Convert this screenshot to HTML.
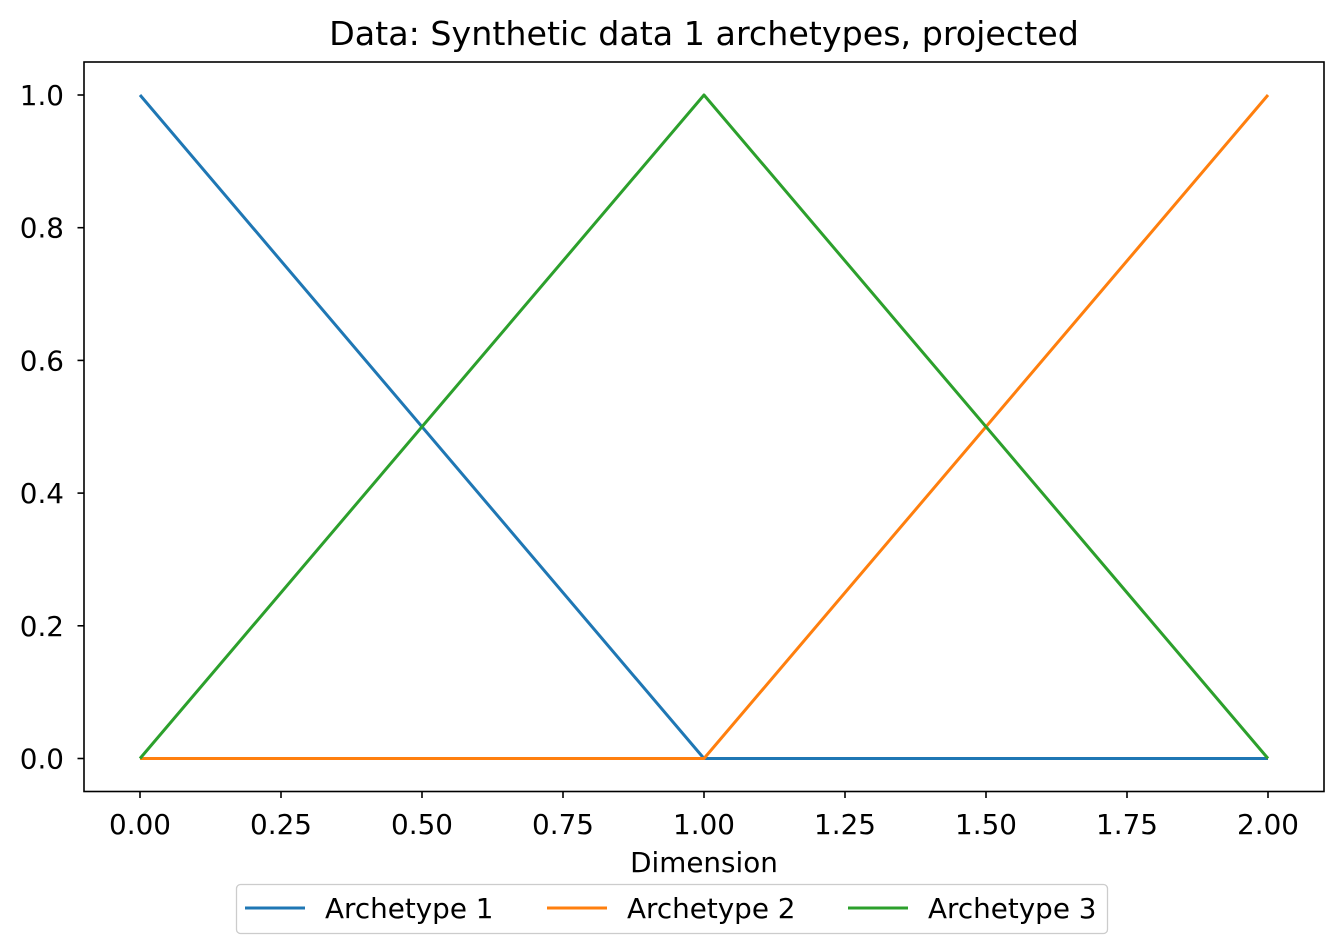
<!DOCTYPE html>
<html><head><meta charset="utf-8"><style>
html,body{margin:0;padding:0;background:#fff;}
svg{display:block;font-family:"DejaVu Sans","Liberation Sans",sans-serif;}
</style></head><body>
<svg id="chart" width="1343" height="948">
<rect width="1343" height="948" fill="#fff"/>
<text x="704" y="45" style="font-size:33.3px" text-anchor="middle">Data: Synthetic data 1 archetypes, projected</text>
<g id="ticks"></g>
<g id="lines"></g>
<rect x="84" y="62" width="1240" height="729.5" fill="none" stroke="#000" stroke-width="1.6"/>
<text x="704" y="872" style="font-size:27.8px" text-anchor="middle">Dimension</text>
<g>
<rect x="236.5" y="884.5" width="871" height="49" rx="4" fill="#fff" stroke="#ccc" stroke-width="1.3"/>
<g id="legend-items"></g>
</g>
</svg>
<script>
const dims = [0, 1, 2];
const seriesNames = ["Archetype 1", "Archetype 2", "Archetype 3"];
const arch1 = [1, 0, 0];
const arch2 = [0, 0, 1];
const arch3 = [0, 1, 0];
const xTicks = [0, 0.25, 0.5, 0.75, 1, 1.25, 1.5, 1.75, 2];
const yTicks = [0, 0.2, 0.4, 0.6, 0.8, 1.0];
const colors = ["#1f77b4", "#ff7f0e", "#2ca02c"];
const NS = "http://www.w3.org/2000/svg";
const xs = v => 140 + v * 564;
const ys = v => 758.5 - v * 663.5;
const tg = document.getElementById('ticks');
function mk(tag, attrs, parent){const e=document.createElementNS(NS,tag);for(const k in attrs)e.setAttribute(k,attrs[k]);parent.appendChild(e);return e;}
xTicks.forEach(t=>{
  const l=mk('line',{x1:xs(t),x2:xs(t),y1:791.5,y2:798,stroke:'#000','stroke-width':1.6},tg);
  
  
  const tx=mk('text',{x:xs(t),y:834,style:'font-size:27.8px','text-anchor':'middle'},tg);
  tx.textContent=t.toFixed(2);
  
  
});
yTicks.forEach(t=>{
  const l=mk('line',{x1:77.5,x2:84,y1:ys(t),y2:ys(t),stroke:'#000','stroke-width':1.6},tg);
  
  
  const tx=mk('text',{x:64,y:ys(t)+10,style:'font-size:27.8px','text-anchor':'end'},tg);
  tx.textContent=t.toFixed(1);
  
  
});
const lg=document.getElementById('lines');
[arch1,arch2,arch3].forEach((s,i)=>{
  const p=mk('polyline',{points:s.map((v,j)=>xs(dims[j])+','+ys(v)).join(' '),fill:'none',stroke:colors[i],'stroke-width':3,'stroke-linejoin':'round'},lg);
  
  
});
const leg=document.getElementById('legend-items');
const lx=[245,547,848];
seriesNames.forEach((n,i)=>{
  const l=mk('line',{x1:lx[i],x2:lx[i]+60,y1:908,y2:908,stroke:colors[i],'stroke-width':3},leg);
  
  
  const t=mk('text',{x:lx[i]+80,y:918,style:'font-size:27.8px'},leg);
  t.textContent=n;
  
  
});
</script>
</body></html>
